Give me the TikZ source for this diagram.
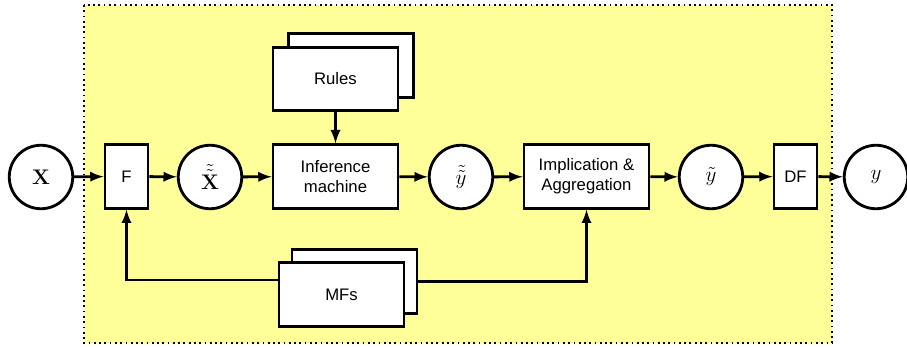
\documentclass[tikz,border=0pt]{standalone}
\usepackage{amsmath}
\usepackage[no-math]{fontspec}
\setmainfont{Liberation Sans}
\usetikzlibrary{arrows}
\definecolor{panel}{HTML}{FFFF99}
\tikzset{
  blk/.style={draw,fill=white,align=center,minimum width=2.5cm,minimum height=1.27cm,inner sep=1pt},
  thin blk/.style={blk,minimum width=0.86cm},
  var/.style={draw,circle,fill=white,minimum size=1.27cm,inner sep=0pt,font=\fontsize{12}{14}\selectfont}
}

\begin{document}
\begin{tikzpicture}[>=latex,x=0.02cm,y=-0.02cm,line width=1.6pt,
  every node/.append style={font=\fontsize{9.5}{11.5}\selectfont}]
   \useasboundingbox (0,0) rectangle (907,347);
   % the system
   \fill[panel] (84,5) rectangle (832,343);
   \draw[dotted,line width=1pt] (84,5) rectangle (832,343);

   \node[var] (x) at (41,177) {$\mathbf{X}$};
   \node[thin blk] (f) at (126.5,176.5) {F};
   \node[var] (xt) at (210,177) {$\tilde{\tilde{\mathbf{X}}}$};
   \node[blk] (inf) at (335.5,176.5) {Inference\\machine};
   \node[var] (yt2) at (461,177) {$\tilde{\tilde{y}}$};
   \node[blk] (imp) at (586.5,176.5) {Implication \&\\Aggregation};
   \node[var] (yt) at (711,177) {$\tilde{y}$};
   \node[thin blk] (df) at (795.5,176.5) {DF};
   \node[var] (y) at (876,177) {$y$};

   \node[blk] (rulesback) at (351,65.5) {};
   \node[blk] (rules) at (335.5,79) {Rules};
   \node[blk] (mfsback) at (354.5,281.5) {};
   \node[blk] (mfs) at (341.5,294.5) {MFs};

   \draw [->] (x) -- (f) ;
   \draw [->] (f) -- (xt) ;
   \draw [->] (xt) -- (inf) ;
   \draw [->] (inf) -- (yt2) ;
   \draw [->] (yt2) -- (imp) ;
   \draw [->] (imp) -- (yt) ;
   \draw [->] (yt) -- (df) ;
   \draw [->] (df) -- (y) ;
   \draw [->] (rules) -- (inf) ;
   % feedback from the MFs
   \draw [->] ([yshift=0.29cm]mfs.west) -| (f.south) ;
   \draw [->] (mfsback.east) -| (imp.south) ;
\end{tikzpicture}
\end{document}
